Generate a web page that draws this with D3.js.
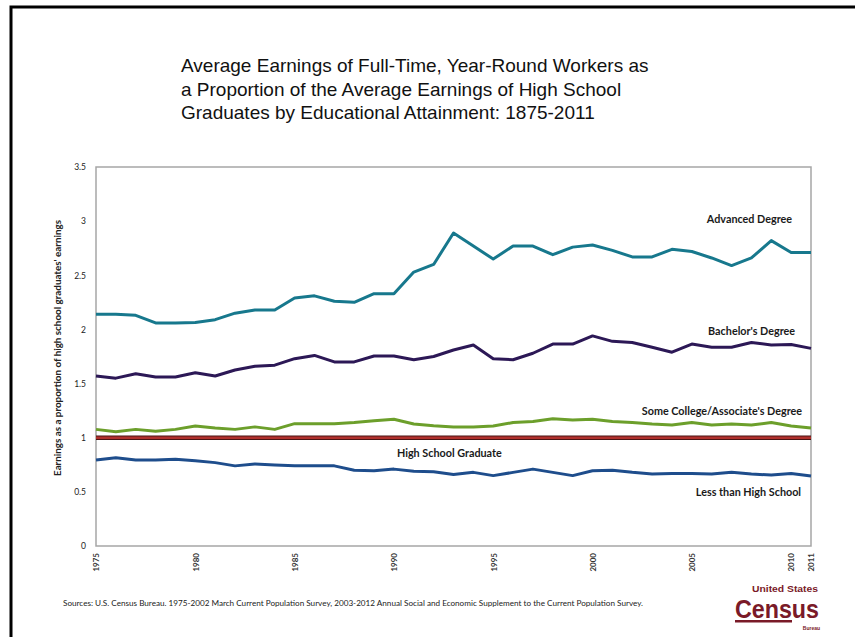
<!DOCTYPE html>
<html>
<head>
<meta charset="utf-8">
<script src="https://cdn.jsdelivr.net/npm/d3@7"></script>
<style>
  body { margin: 0; background: #fff; }
  svg { display: block; }
</style>
</head>
<body>
<svg id="chart" width="855" height="637"></svg>
<script>
var years = d3.range(1975, 2012);
var xTicks = [1975, 1980, 1985, 1990, 1995, 2000, 2005, 2010, 2011];
var yTicks = [0, 0.5, 1, 1.5, 2, 2.5, 3, 3.5];

var advanced = [2.14, 2.14, 2.13, 2.06, 2.06, 2.065, 2.09, 2.15, 2.18, 2.18,
                2.29, 2.31, 2.26, 2.25, 2.33, 2.33, 2.53, 2.60, 2.89, 2.77,
                2.65, 2.77, 2.77, 2.69, 2.76, 2.78, 2.73, 2.67, 2.67, 2.74,
                2.72, 2.66, 2.59, 2.66, 2.82, 2.71, 2.71];
var bachelors = [1.57, 1.55, 1.59, 1.56, 1.56, 1.60, 1.57, 1.625, 1.66, 1.67,
                 1.73, 1.76, 1.70, 1.70, 1.755, 1.755, 1.72, 1.75, 1.81, 1.856,
                 1.73, 1.72, 1.78, 1.865, 1.865, 1.94, 1.89, 1.88, 1.835, 1.79,
                 1.865, 1.835, 1.835, 1.88, 1.856, 1.86, 1.825];
var someCollege = [1.077, 1.055, 1.077, 1.06, 1.077, 1.108, 1.09, 1.077, 1.10, 1.077,
                   1.13, 1.13, 1.13, 1.14, 1.157, 1.17, 1.126, 1.11, 1.10, 1.10,
                   1.108, 1.14, 1.15, 1.175, 1.163, 1.17, 1.15, 1.14, 1.126, 1.117,
                   1.14, 1.117, 1.126, 1.117, 1.14, 1.108, 1.09];
var highSchool = years.map(function () { return 1; });
var lessThanHS = [0.794, 0.815, 0.794, 0.794, 0.80, 0.788, 0.77, 0.74, 0.757, 0.748,
                  0.74, 0.74, 0.74, 0.70, 0.695, 0.71, 0.69, 0.686, 0.66, 0.68,
                  0.65, 0.68, 0.71, 0.68, 0.65, 0.695, 0.70, 0.68, 0.665, 0.67,
                  0.67, 0.665, 0.68, 0.665, 0.655, 0.67, 0.646];

var seriesNames = ["Advanced Degree", "Bachelor's Degree", "Some College/Associate's Degree",
                   "High School Graduate", "Less than High School"];
var seriesValues = [advanced, bachelors, someCollege, highSchool, lessThanHS];
var seriesColors = ["#17788d", "#2c1856", "#6c9f2b", "#b0302c", "#1e4d8c"];

var svg = d3.select("#chart"),
    margin = {top: 167, left: 96, right: 44, bottom: 91},
    width = 855 - margin.left - margin.right,
    height = 637 - margin.top - margin.bottom,
    g = svg.append("g").attr("transform", "translate(" + margin.left + "," + margin.top + ")");

// outer slide frame (runs off right / bottom)
svg.append("path")
    .attr("d", "M11,640 L11,7 L860,7")
    .attr("fill", "none")
    .attr("stroke", "#000")
    .attr("stroke-width", 3);

// title
var title = ["Average Earnings of Full-Time, Year-Round Workers as",
             "a Proportion of the Average Earnings of High School",
             "Graduates by Educational Attainment: 1875-2011"];
svg.append("text")
    .attr("x", 181)
    .attr("y", 72)
    .style("font-family", "'Liberation Sans', Arial, sans-serif")
    .style("font-size", "19px")
    .attr("fill", "#111")
    .selectAll("tspan")
    .data(title)
    .enter()
    .append("tspan")
    .attr("x", 181)
    .attr("dy", function (d, i) { return i === 0 ? 0 : 23.5; })
    .text(function (d) { return d; });

var x = d3.scaleLinear().domain([1975, 2011]).range([0, width]);
var y = d3.scaleLinear().domain([0, 3.5]).range([height, 0]);

// plot frame
g.append("rect")
    .attr("width", width)
    .attr("height", height)
    .attr("fill", "none")
    .attr("stroke", "#a6a6a6")
    .attr("stroke-width", 1.5);

var yAxis = g.append("g")
    .attr("class", "axis axis--y")
    .call(d3.axisLeft(y).tickValues(yTicks).tickSize(0).tickPadding(10)
        .tickFormat(function (d) { return String(d); }));
yAxis.select(".domain").remove();
yAxis.selectAll("text")
    .style("font-family", "Lato, sans-serif")
    .style("font-size", "8.5px")
    .attr("fill", "#222");

var xAxis = g.append("g")
    .attr("class", "axis axis--x")
    .attr("transform", "translate(0," + height + ")")
    .call(d3.axisBottom(x).tickValues(xTicks).tickSize(0).tickFormat(d3.format("d")));
xAxis.select(".domain").remove();
xAxis.selectAll("text")
    .style("font-family", "Lato, sans-serif")
    .style("font-size", "8px")
    .style("font-weight", "bold")
    .attr("fill", "#333")
    .attr("text-anchor", "end")
    .attr("dy", "0.35em")
    .attr("transform", "translate(0,7) rotate(-90)")
    .attr("x", 0)
    .attr("y", 0);

// y axis title
svg.append("text")
    .attr("transform", "translate(61,348) rotate(-90)")
    .attr("text-anchor", "middle")
    .attr("textLength", 256)
    .attr("lengthAdjust", "spacingAndGlyphs")
    .style("font-family", "Lato, sans-serif")
    .style("font-size", "8.5px")
    .style("font-weight", "bold")
    .attr("fill", "#222")
    .text("Earnings as a proportion of high school graduates' earnings");

var line = d3.line()
    .x(function (d, i) { return x(years[i]); })
    .y(function (d) { return y(d); });

// high school line gets a dark edge
g.append("path")
    .attr("d", line(highSchool))
    .attr("fill", "none")
    .attr("stroke", "#4a1414")
    .attr("stroke-width", 4.5);

g.selectAll(".series")
    .data(seriesValues)
    .enter()
    .append("path")
    .attr("class", "series")
    .attr("fill", "none")
    .attr("stroke", function (d, i) { return seriesColors[i]; })
    .attr("stroke-width", function (d, i) { return i === 3 ? 2.5 : 3; })
    .attr("stroke-linejoin", "round")
    .attr("d", line);

// series labels: [year, value, anchor]
var labelSpots = [[2010.05, 2.98, "end"], [2010.2, 1.95, "end"], [2010.55, 1.21, "end"],
                  [1990.15, 0.82, "start"], [2010.5, 0.46, "end"]];
g.selectAll(".series-label")
    .data(seriesNames)
    .enter()
    .append("text")
    .attr("class", "series-label")
    .attr("x", function (d, i) { return x(labelSpots[i][0]); })
    .attr("y", function (d, i) { return y(labelSpots[i][1]); })
    .attr("text-anchor", function (d, i) { return labelSpots[i][2]; })
    .style("font-family", "Lato, sans-serif")
    .style("font-size", "10.8px")
    .style("font-weight", "bold")
    .attr("fill", "#1a1a1a")
    .text(function (d) { return d; });

// source note
svg.append("text")
    .attr("x", 63)
    .attr("y", 606)
    .attr("textLength", 580)
    .attr("lengthAdjust", "spacingAndGlyphs")
    .style("font-family", "Lato, sans-serif")
    .style("font-size", "7px")
    .attr("fill", "#222")
    .text("Sources:  U.S. Census Bureau. 1975-2002 March Current Population Survey, 2003-2012 Annual Social and Economic Supplement to the Current Population Survey.");

// census logo
var logo = svg.append("g").attr("fill", "#7a1a28");
logo.append("text")
    .attr("x", 818).attr("y", 592)
    .attr("text-anchor", "end")
    .attr("textLength", 66)
    .attr("lengthAdjust", "spacingAndGlyphs")
    .style("font-family", "'Liberation Sans Narrow', 'Liberation Sans', sans-serif")
    .style("font-size", "9px")
    .style("font-weight", "bold")
    .text("United States");
logo.append("text")
    .attr("x", 735).attr("y", 618)
    .attr("textLength", 84)
    .attr("lengthAdjust", "spacingAndGlyphs")
    .style("font-family", "'Liberation Sans Narrow', 'Liberation Sans', sans-serif")
    .style("font-size", "26px")
    .style("font-weight", "bold")
    .text("Census");
logo.append("rect")
    .attr("x", 735).attr("y", 620).attr("width", 57).attr("height", 2.5);
logo.append("text")
    .attr("x", 820).attr("y", 630)
    .attr("text-anchor", "end")
    .style("font-family", "'Liberation Sans', sans-serif")
    .style("font-size", "5px")
    .style("font-weight", "bold")
    .text("Bureau");
</script>
</body>
</html>
